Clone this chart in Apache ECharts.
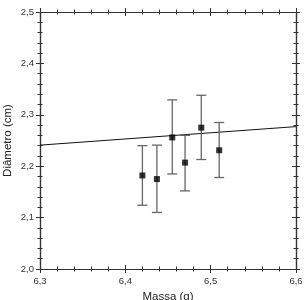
<!DOCTYPE html>
<html>
<head>
<meta charset="utf-8">
<script src="https://cdn.jsdelivr.net/npm/echarts@6/dist/echarts.min.js"></script>
<style>
  html, body { margin: 0; padding: 0; background: #fff; }
  #chart { width: 305px; height: 300px; }
</style>
</head>
<body>
<div id="chart"></div>
<script>
  var massa = [6.420, 6.437, 6.455, 6.470, 6.489, 6.510];
  var diametro = [2.182, 2.175, 2.256, 2.207, 2.275, 2.231];
  var erroMin = [2.124, 2.110, 2.185, 2.152, 2.213, 2.178];
  var erroMax = [2.240, 2.241, 2.329, 2.260, 2.338, 2.285];
  // reta ajustada
  var ajusteX = [6.3, 6.6];
  var ajusteY = [2.241, 2.277];

  var fmt = function (v) { return v.toFixed(1).replace('.', ','); };
  var axisColor = '#333';

  function makeX(pos, inside, show) {
    return {
      type: 'value', min: 6.3, max: 6.6, interval: 0.1, position: pos,
      name: show ? 'Massa (g)' : '', nameLocation: 'middle', nameGap: 22, nameMoveOverlap: false,
      nameTextStyle: { fontFamily: 'Liberation Sans', fontSize: 11.5, color: '#222' },
      axisLine: { show: true, onZero: false, lineStyle: { color: axisColor, width: 1.2 } },
      axisTick: { show: true, inside: inside, length: 4, lineStyle: { color: axisColor } },
      minorTick: { show: true, splitNumber: 5, length: 2.5, lineStyle: { color: axisColor } },
      axisLabel: { show: show, formatter: fmt, fontFamily: 'Liberation Sans', fontSize: 9.5, color: '#333', margin: 7 },
      splitLine: { show: false }
    };
  }
  function makeY(pos, inside, show) {
    return {
      type: 'value', min: 2.0, max: 2.5, interval: 0.1, position: pos,
      name: show ? 'Diâmetro (cm)' : '', nameLocation: 'middle', nameGap: 26, nameMoveOverlap: false,
      nameTextStyle: { fontFamily: 'Liberation Sans', fontSize: 11.5, color: '#222' },
      axisLine: { show: true, onZero: false, lineStyle: { color: axisColor, width: 1.2 } },
      axisTick: { show: true, inside: inside, length: 4, lineStyle: { color: axisColor } },
      minorTick: { show: true, splitNumber: 5, length: 2.5, lineStyle: { color: axisColor } },
      axisLabel: { show: show, formatter: fmt, fontFamily: 'Liberation Sans', fontSize: 9.5, color: '#333', margin: 6 },
      splitLine: { show: false }
    };
  }

  var pontos = massa.map(function (m, i) { return [m, diametro[i]]; });
  var barras = massa.map(function (m, i) { return [m, erroMin[i], erroMax[i]]; });

  var chart = echarts.init(document.getElementById('chart'));
  chart.setOption({
    animation: false,
    grid: { left: 40, right: 9, top: 12, bottom: 31, containLabel: false, outerBoundsMode: 'none' },
    xAxis: [makeX('bottom', false, true), makeX('bottom', true, false),
            makeX('top', false, false), makeX('top', true, false)],
    yAxis: [makeY('left', false, true), makeY('left', true, false),
            makeY('right', false, false), makeY('right', true, false)],
    series: [
      {
        type: 'line',
        data: ajusteX.map(function (x, i) { return [x, ajusteY[i]]; }),
        symbol: 'none',
        lineStyle: { color: '#111', width: 1 },
        z: 2
      },
      {
        type: 'custom',
        data: barras,
        renderItem: function (params, api) {
          var top = api.coord([api.value(0), api.value(2)]);
          var bot = api.coord([api.value(0), api.value(1)]);
          var w = 5;
          var style = { stroke: '#666', lineWidth: 1.3 };
          return {
            type: 'group',
            children: [
              { type: 'line', shape: { x1: top[0], y1: top[1], x2: bot[0], y2: bot[1] }, style: style },
              { type: 'line', shape: { x1: top[0] - w, y1: top[1], x2: top[0] + w, y2: top[1] }, style: style },
              { type: 'line', shape: { x1: bot[0] - w, y1: bot[1], x2: bot[0] + w, y2: bot[1] }, style: style }
            ]
          };
        },
        z: 3
      },
      {
        type: 'scatter',
        data: pontos,
        symbol: 'rect',
        symbolSize: 6,
        itemStyle: { color: '#000' },
        z: 4
      }
    ]
  });
</script>
</body>
</html>
